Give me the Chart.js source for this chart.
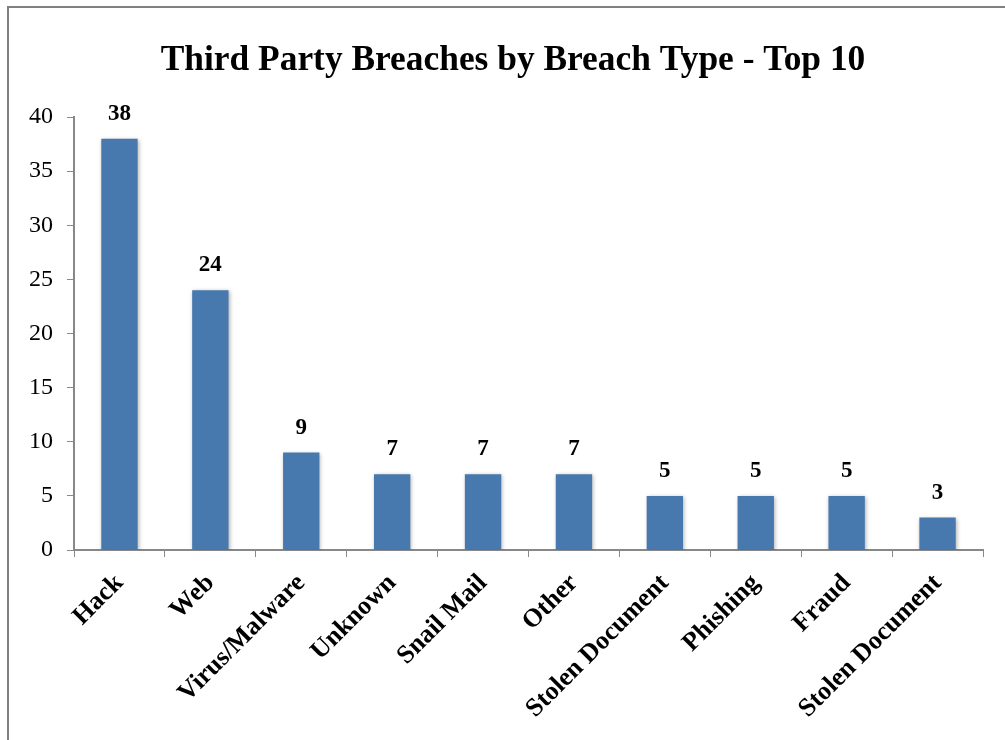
<!DOCTYPE html>
<html>
<head>
<meta charset="utf-8">
<script src="https://cdn.jsdelivr.net/npm/chart.js@4/dist/chart.umd.min.js"></script>
<style>
html,body{margin:0;padding:0;background:#fff;}
#wrap{width:1005px;height:740px;position:relative;}
</style>
</head>
<body>
<div id="wrap"><canvas id="c" width="1005" height="740"></canvas></div>
<script>
const categories = ["Hack","Web","Virus/Malware","Unknown","Snail Mail","Other","Stolen Document","Phishing","Fraud","Stolen Document"];
const breachCounts = [38,24,9,7,7,7,5,5,5,3];
const yTicks = [0,5,10,15,20,25,30,35,40];
const chartTitle = "Third Party Breaches by Breach Type - Top 10";

const SERIF = "'Liberation Serif', 'DejaVu Serif', serif";

const borderPlugin = {
  id: 'border',
  beforeDraw(chart) {
    const ctx = chart.ctx;
    ctx.save();
    ctx.fillStyle = '#fff';
    ctx.fillRect(0,0,chart.width,chart.height);
    ctx.strokeStyle = '#808080';
    ctx.lineWidth = 2;
    ctx.strokeRect(8, 7, chart.width + 20, chart.height + 20);
    ctx.restore();
  },
  afterDraw(chart) {
    const ctx = chart.ctx;
    ctx.save();
    ctx.font = "bold 35.4px " + SERIF;
    ctx.fillStyle = '#000';
    ctx.textAlign = 'center';
    ctx.textBaseline = 'middle';
    ctx.fillText(chartTitle, 513, 61);
    ctx.restore();
  }
};

const shadowPlugin = {
  id: 'shadow',
  beforeDatasetsDraw(chart) {
    const ctx = chart.ctx;
    ctx.save();
    ctx.shadowColor = 'rgba(0,0,0,0.3)';
    ctx.shadowBlur = 4;
    ctx.shadowOffsetX = 1;
    ctx.shadowOffsetY = 1;
  },
  afterDatasetsDraw(chart) {
    chart.ctx.restore();
    const ctx = chart.ctx;
    const meta = chart.getDatasetMeta(0);
    ctx.save();
    ctx.font = "bold 23px " + SERIF;
    ctx.fillStyle = '#000';
    ctx.textAlign = 'center';
    ctx.textBaseline = 'alphabetic';
    meta.data.forEach((bar, i) => {
      ctx.fillText(String(chart.data.datasets[0].data[i]), bar.x, bar.y - 19);
    });
    ctx.restore();
  }
};

new Chart(document.getElementById('c'), {
  type: 'bar',
  data: {
    labels: categories,
    datasets: [{
      data: breachCounts,
      backgroundColor: 'rgb(71,120,174)',
      borderWidth: 0,
      barPercentage: 0.4,
      categoryPercentage: 1.0
    }]
  },
  options: {
    responsive: false,
    animation: false,
    devicePixelRatio: 1,
    layout: { padding: { left: 0, right: 22, top: 117, bottom: 0 } },
    plugins: {
      legend: { display: false },
      tooltip: { enabled: false },
      title: { display: false }
    },
    scales: {
      x: {
        offset: true,
        grid: { display: true, drawOnChartArea: false, drawTicks: true, tickLength: 7, color: '#888', offset: true },
        border: { display: true, color: '#888', width: 2 },
        ticks: {
          color: '#000',
          font: { family: SERIF, size: 26, weight: 'bold' },
          maxRotation: 45, minRotation: 45, autoSkip: false, padding: 11
        },
        afterFit(scale) { scale.height = 190; }
      },
      y: {
        min: 0, max: 40,
        afterBuildTicks(scale) { scale.ticks = yTicks.map(v => ({ value: v })); },
        grid: { display: true, drawOnChartArea: false, drawTicks: true, tickLength: 7, color: '#888' },
        border: { display: true, color: '#888', width: 2 },
        ticks: {
          color: '#000',
          font: { family: SERIF, size: 24 },
          padding: 14
        },
        afterFit(scale) { scale.width = 74; }
      }
    }
  },
  plugins: [borderPlugin, shadowPlugin]
});
</script>
</body>
</html>
